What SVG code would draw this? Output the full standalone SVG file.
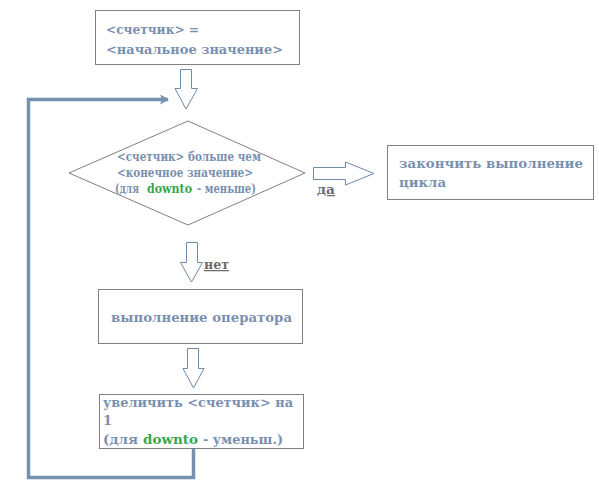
<svg xmlns="http://www.w3.org/2000/svg" width="599" height="491" viewBox="0 0 599 491">
<style>
.box{fill:#fff;stroke:#808080;stroke-width:1}
.t{font-family:"DejaVu Serif","Liberation Serif",serif;font-weight:bold;fill:#7a90b0;font-size:13px}
.s{font-size:12px}
.m{font-size:12.8px}
.g{fill:#3aa64a}
.harrow{fill:#fff;stroke:#6f89a8;stroke-width:1}
.lbl{font-family:"DejaVu Serif","Liberation Serif",serif;font-weight:bold;fill:#6b6b6b;font-size:12.5px;text-decoration:underline}
.loop{fill:none;stroke:#7690b0;stroke-width:3.5}
</style>
<defs>
<marker id="ah" markerWidth="10" markerHeight="10" refX="8" refY="5" orient="auto" markerUnits="userSpaceOnUse">
<path d="M0,0 L9,5 L0,10 L2,5 Z" fill="#7690b0"/>
</marker>
</defs>
<rect width="599" height="491" fill="#fff"/>
<g id="connectors">
<path class="loop" d="M193.5,448 V477.5 H28.5 V99.5 H168" marker-end="url(#ah)"/>
<path class="harrow" d="M180.5,69.5 H191.5 V88.5 H197.5 L186,109 L175,88.5 H180.5 Z"/>
<path class="harrow" d="M313.5,167.5 H345.5 V162 L374,173.5 L345.5,185 V179.5 H313.5 Z"/>
<text class="lbl" x="317" y="194" textLength="18" lengthAdjust="spacingAndGlyphs">да</text>
<path class="harrow" d="M186.5,242.5 H197.5 V262.5 H202.5 L191.5,282 L180.5,262.5 H186.5 Z"/>
<text class="lbl" x="204" y="269" textLength="25" lengthAdjust="spacingAndGlyphs">нет</text>
<path class="harrow" d="M187.5,348.5 H198.5 V368.5 H204 L193.5,388 L183,368.5 H187.5 Z"/>
</g>
<g id="init">
<rect class="box" x="95.5" y="10.5" width="204" height="54"/>
<text class="t" x="106" y="34" textLength="93" lengthAdjust="spacingAndGlyphs">&lt;счетчик&gt; =</text>
<text class="t" x="106" y="54" textLength="177" lengthAdjust="spacingAndGlyphs">&lt;начальное значение&gt;</text>
</g>
<g id="cond">
<path class="box" d="M188,121 L305,173 L188,225 L69,173 Z"/>
<text class="t s" x="117" y="161" textLength="144" lengthAdjust="spacingAndGlyphs">&lt;счетчик&gt; больше чем</text>
<text class="t s" x="117" y="177" textLength="136" lengthAdjust="spacingAndGlyphs">&lt;конечное значение&gt;</text>
<text class="t m" x="115" y="192.5" textLength="24" lengthAdjust="spacingAndGlyphs">(для</text>
<text class="t m g" x="147" y="192.5" textLength="45" lengthAdjust="spacingAndGlyphs">downto</text>
<text class="t m" x="197" y="192.5" textLength="59" lengthAdjust="spacingAndGlyphs">- меньше)</text>
</g>
<g id="end">
<rect class="box" x="387.5" y="145.5" width="206" height="54"/>
<text class="t" x="399" y="168" textLength="184" lengthAdjust="spacingAndGlyphs">закончить выполнение</text>
<text class="t" x="399" y="187" textLength="47" lengthAdjust="spacingAndGlyphs">цикла</text>
</g>
<g id="body">
<rect class="box" x="98.5" y="289.5" width="204" height="54"/>
<text class="t" x="111" y="322" textLength="181" lengthAdjust="spacingAndGlyphs">выполнение оператора</text>
</g>
<g id="inc">
<rect class="box" x="99.5" y="394.5" width="204" height="54"/>
<text class="t" x="103" y="407" textLength="190" lengthAdjust="spacingAndGlyphs">увеличить &lt;счетчик&gt; на</text>
<text class="t" x="103" y="425">1</text>
<text class="t" x="103" y="444" textLength="35" lengthAdjust="spacingAndGlyphs">(для</text>
<text class="t g" x="143" y="444" textLength="55" lengthAdjust="spacingAndGlyphs">downto</text>
<text class="t" x="203" y="444" textLength="80" lengthAdjust="spacingAndGlyphs">- уменьш.)</text>
</g>
</svg>
